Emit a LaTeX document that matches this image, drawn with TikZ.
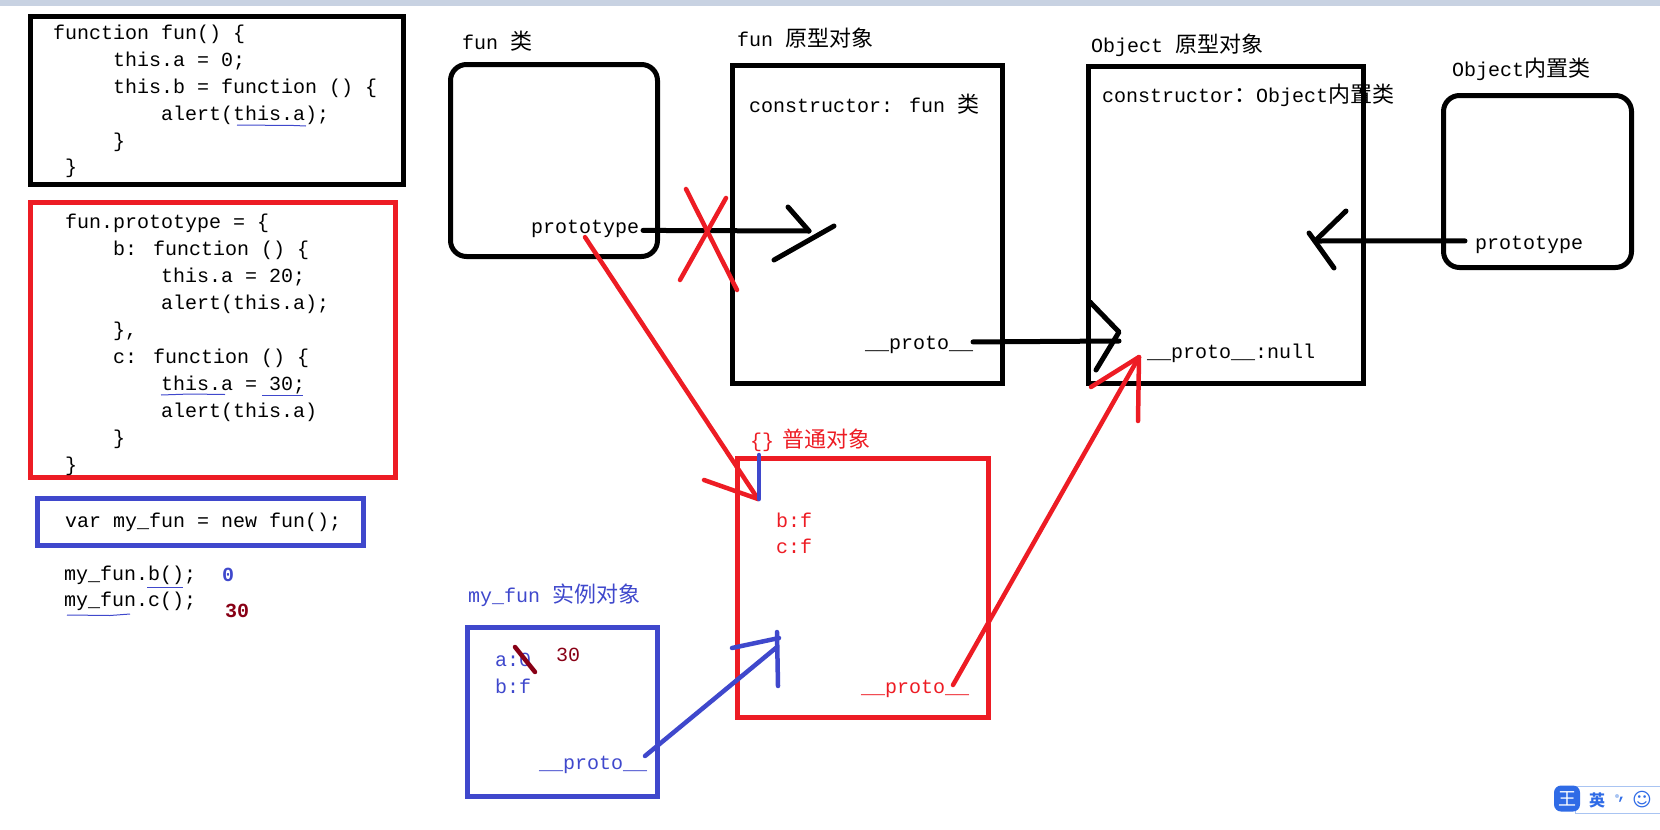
\documentclass[tikz,border=0pt]{standalone}
\usepackage{fontspec}
\setmainfont{Liberation Mono}
\newfontfamily\cjkfont{Noto Sans CJK SC}
\newfontfamily\symfont{DejaVu Sans}
\newcommand{\zh}[1]{{\fontsize{22}{27}\cjkfont #1}}

\definecolor{penred}{HTML}{ED1C24}
\definecolor{penblue}{HTML}{3F48CC}
\definecolor{pendark}{HTML}{880015}
\definecolor{barblue}{HTML}{C8D2E2}
\definecolor{imeblue}{HTML}{2F6BE6}
\definecolor{imeline}{HTML}{A9C4F2}

\tikzset{
  code/.style={anchor=base west, inner sep=0pt, outer sep=0pt, font=\fontsize{20}{27}\selectfont},
  redtext/.style={code, text=penred},
  bluetext/.style={code, text=penblue},
  darktext/.style={code, text=pendark},
  framebox/.style={draw, rectangle, line width=5pt, inner sep=0pt, outer sep=0pt, anchor=north west},
  roundbox/.style={framebox, rounded corners=16pt},
  blackpen/.style={line width=5pt, line cap=round, line join=round},
  redpen/.style={line width=4.5pt, line cap=round, line join=round, color=penred},
  bluepen/.style={line width=4.5pt, line cap=round, line join=round, color=penblue},
  darkpen/.style={line width=4.5pt, line cap=round, color=pendark},
  wavy/.style={line width=1pt, color=penblue}
}

\begin{document}
\begin{tikzpicture}[x=1pt, y=-1pt]
\useasboundingbox (0,0) rectangle (1660,830);
\fill[barblue] (0,0) rectangle (1660,6);

% boxes
\node[framebox, minimum width=373pt, minimum height=168pt] (funcode) at (30,16.5) {};
\node[framebox, draw=penred, minimum width=365pt, minimum height=275pt] (protocode) at (30.5,202.5) {};
\node[framebox, draw=penblue, minimum width=326pt, minimum height=47pt] (newcode) at (37.5,498.5) {};
\node[roundbox, minimum width=207pt, minimum height=192pt] (funclass) at (450.5,64.5) {};
\node[framebox, minimum width=270pt, minimum height=318pt] (funobj) at (732.5,65.5) {};
\node[framebox, minimum width=275pt, minimum height=317pt] (objobj) at (1088.5,66.5) {};
\node[roundbox, minimum width=188pt, minimum height=172pt] (objclass) at (1443.5,95.5) {};
\node[framebox, draw=penred, minimum width=251pt, minimum height=259pt] (plainobj) at (737.5,458) {};
\node[framebox, draw=penblue, minimum width=190pt, minimum height=169pt] (myobj) at (467.5,627.5) {};

% first block
\node[code] (fa) at (53,39) {function fun() \{};
\node[code] (fb) at (113,66) {this.a = 0;};
\node[code] (fc) at (113,93) {this.b = function () \{};
\node[code] (fd) at (161,120) {alert(this.a);};
\node[code] (fe) at (113,147) {\}};
\node[code] (ff) at (65,173) {\}};

% second block
\node[code] (pa) at (65,228) {fun.prototype = \{};
\node[code] (pb) at (113,255) {b: function () \{};
\node[code] (pc) at (161,282) {this.a = 20;};
\node[code] (pd) at (161,309) {alert(this.a);};
\node[code] (pe) at (113,336) {\},};
\node[code] (pf) at (113,363) {c: function () \{};
\node[code] (pg) at (161,390) {this.a = 30;};
\node[code] (ph) at (161,417) {alert(this.a)};
\node[code] (pi) at (113,444) {\}};
\node[code] (pj) at (65,471) {\}};

% calls
\node[code] (na) at (65,527) {var my\_fun = new fun();};
\node[code] (ca) at (64,580) {my\_fun.b();};
\node[code] (cb) at (64,606) {my\_fun.c();};
\node[bluetext, font=\fontsize{20}{27}\bfseries] (ra) at (222,581) {0};
\node[darktext, font=\fontsize{20}{27}\bfseries] (rb) at (225,617) {30};

% pen underlines
\draw[wavy] (237,125) -- (294,125.5) -- (306,126);
\draw[wavy] (161,395) -- (190,394) -- (225,394.5);
\draw[wavy] (262,395) -- (303,395);
\draw[wavy] (147,587) -- (183,587);
\draw[wavy] (67,615) -- (110,615.5) -- (130,614);

% titles
\node[code] (funtitle) at (462,49) {fun \zh{类}};
\node[code] (funobjtitle) at (737,46) {fun \zh{原型对象}};
\node[code] (objobjtitle) at (1091,52) {Object \zh{原型对象}};
\node[code] (objclasstitle) at (1452,76) {Object\zh{内置类}};
\node[redtext] (plaintitle) at (750,447) {\{\}\hspace{8pt}\zh{普通对象}};
\node[bluetext] (mytitle) at (468,602) {my\_fun \zh{实例对象}};

% inside the boxes
\node[code] (functor) at (749,112) {constructor: fun \zh{类}};
\node[code] (objctor) at (1102,102) {constructor\zh{：}Object\zh{内置类}};
\node[code] (funproto) at (531,233) {prototype};
\node[code] (objproto) at (1475,249) {prototype};
\node[code] (funnext) at (865,349) {\_\_proto\_\_};
\node[code] (objnext) at (1147,358) {\_\_proto\_\_:null};
\node[redtext] (plainb) at (776,527) {b:f};
\node[redtext] (plainc) at (776,553) {c:f};
\node[redtext] (plainnext) at (861,693) {\_\_proto\_\_};
\node[bluetext] (mya) at (495,666) {a:0};
\node[bluetext] (myb) at (495,693) {b:f};
\node[darktext] (mynew) at (556,661) {30};
\node[bluetext] (mynext) at (539,769) {\_\_proto\_\_};

% arrow ends
\coordinate (funtip) at (809,231);
\coordinate (funbarba) at (788,207);
\coordinate (funbarbb) at (774,260);
\coordinate (funbarbc) at (834,226);
\coordinate (crossa) at (686,189);
\coordinate (crossb) at (737,290);
\coordinate (crossc) at (726,198);
\coordinate (crossd) at (680,280);
\coordinate (objtip) at (1119,341);
\coordinate (objbarba) at (1090,302);
\coordinate (objbarbb) at (1119,332);
\coordinate (objbarbc) at (1096,370);
\coordinate (classtip) at (1315,241);
\coordinate (classbarba) at (1346,211);
\coordinate (classbarbb) at (1309,233);
\coordinate (classbarbc) at (1334,268);
\coordinate (plaintip) at (758,499);
\coordinate (plainbarb) at (704,480);
\coordinate (plaintop) at (759,455);
\coordinate (plainend) at (759,499);
\coordinate (nulltip) at (1139,357);
\coordinate (nullbarb) at (1091,387);
\coordinate (nullend) at (1138,421);
\coordinate (nextstart) at (953,685);
\coordinate (mystart) at (645,756);
\coordinate (mytip) at (777,647);
\coordinate (mybarba) at (732,648);
\coordinate (mybarbb) at (779,638);
\coordinate (mytop) at (777,632);
\coordinate (myend) at (778,686);
\coordinate (strikea) at (515,647);
\coordinate (strikeb) at (535,672);

% black arrows
\draw[blackpen] ([xshift=4pt,yshift=-2pt]funproto.east) -- (funtip);
\draw[blackpen] (funbarba) -- (funtip);
\draw[blackpen] (funbarbb) -- (funbarbc);
\draw[blackpen] ([yshift=2.5pt]funnext.east) -- (objtip);
\draw[blackpen] (objbarba) -- (objbarbb) -- (objbarbc);
\draw[blackpen] ([xshift=-10pt,yshift=3.5pt]objproto.west) -- (classtip);
\draw[blackpen] (classbarba) -- (classtip);
\draw[blackpen] (classbarbb) -- (classbarbc);

% red strokes
\draw[redpen] (crossa) -- (crossb);
\draw[redpen] (crossc) -- (crossd);
\draw[redpen] (funproto.south) -- (plaintip);
\draw[redpen] (plainbarb) -- (plaintip);
\draw[redpen] (nextstart) -- (nulltip);
\draw[redpen] (nullbarb) -- (nulltip) -- (nullend);

% blue strokes
\draw[bluepen] (plaintop) -- (plainend);
\draw[bluepen] (mystart) -- (mytip);
\draw[bluepen] (mybarba) -- (mybarbb);
\draw[bluepen] (mytop) -- (myend);
\draw[darkpen] (strikea) -- (strikeb);

% input method bar
\draw[imeline, line width=1pt] (1660,786) -- (1575,786) -- (1575,813) -- (1660,813);
\node[fill=imeblue, rounded corners=7pt, minimum size=26pt, inner sep=0pt, text=white, font=\fontsize{18}{18}\cjkfont] (imelogo) at (1567,798.5) {王};
\node[inner sep=0pt, text=imeblue, font=\fontsize{16}{16}\cjkfont\bfseries] (imelang) at (1597,800) {英};
\fill[imeline] (1617,796) circle (2pt);
\node[inner sep=0pt, text=imeblue, font=\fontsize{16}{16}\bfseries] (imecomma) at (1622,800) {,};
\node[inner sep=0pt, text=imeblue, font=\fontsize{19}{19}\symfont] (imeface) at (1642,800) {☺};
\end{tikzpicture}
\end{document}
